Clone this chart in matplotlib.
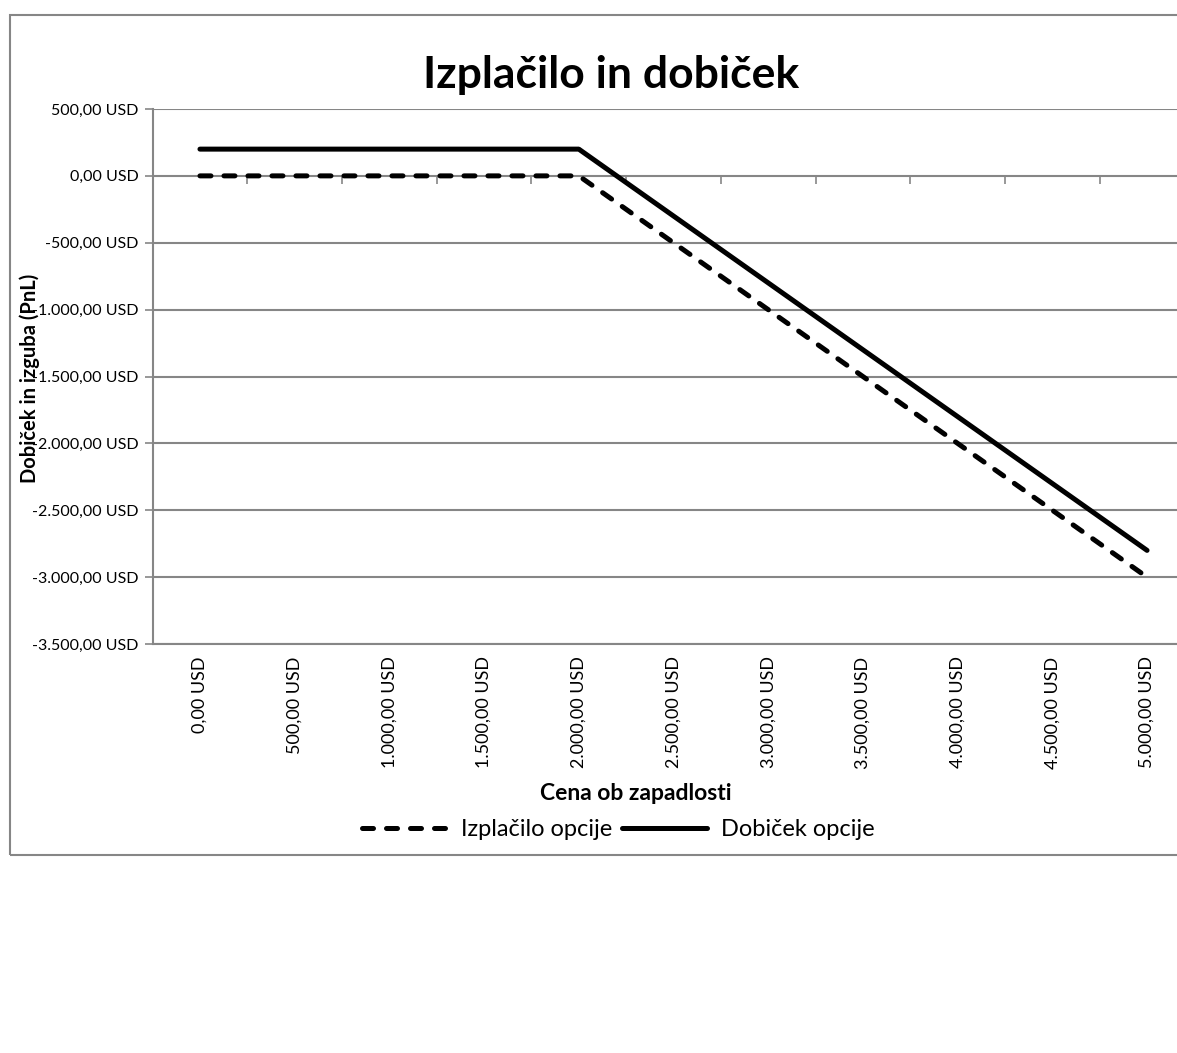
import matplotlib
matplotlib.use("Agg")
import matplotlib.pyplot as plt
import matplotlib.ticker as mtick
from matplotlib.patches import Rectangle

plt.rcParams['font.family'] = ['Lato', 'DejaVu Sans']

# data (USD)
price = [0, 500, 1000, 1500, 2000, 2500, 3000, 3500, 4000, 4500, 5000]
payoff = [0, 0, 0, 0, 0, -500, -1000, -1500, -2000, -2500, -3000]
profit = [200, 200, 200, 200, 200, -300, -800, -1300, -1800, -2300, -2800]

y_ticks = [500, 0, -500, -1000, -1500, -2000, -2500, -3000, -3500]

GRID = '#868686'


def usd(v, pos=None):
    s = '{:,.2f}'.format(v)
    s = s.replace(',', 'X').replace('.', ',').replace('X', '.')
    return s + ' USD'


W, H = 1177, 1053
fig = plt.figure(figsize=(W / 100, H / 100), dpi=100)

# outer chart border
fig.patches.append(Rectangle((10 / W, 1 - 855 / H), 1180 / W, 840 / H,
                             transform=fig.transFigure, fill=False,
                             edgecolor=GRID, lw=1.5))

ax = fig.add_axes([152.6 / W, 1 - 644 / H, 1041.8 / W, 535 / H])

ax.plot(price, payoff, color='black', lw=3.6, ls=(0, (2.2, 2.6)),
        dash_capstyle='round', solid_capstyle='round', label='Izplačilo opcije')
ax.plot(price, profit, color='black', lw=3.6, solid_capstyle='round',
        label='Dobiček opcije')

ax.set_xlim(-250, 5250)
ax.set_ylim(-3500, 500)

ax.set_yticks(y_ticks)
ax.yaxis.set_major_formatter(mtick.FuncFormatter(usd))
ax.tick_params(axis='y', length=6, width=1.2, color=GRID, pad=4, labelsize=11.5)
ax.grid(axis='y', color=GRID, lw=1.5)
ax.set_axisbelow(True)

ax.set_xticks(price)
ax.xaxis.set_major_formatter(mtick.FuncFormatter(usd))
ax.tick_params(axis='x', length=0, pad=9, labelsize=13, labelrotation=90)

for s in ['top', 'right']:
    ax.spines[s].set_visible(False)
ax.spines['left'].set_color(GRID)
ax.spines['left'].set_linewidth(1.5)
ax.spines['bottom'].set_color(GRID)
ax.spines['bottom'].set_linewidth(1.5)

# category axis crossing at zero with tick marks between categories
sec = ax.secondary_xaxis(3500 / 4000)
sec.set_xticks([p - 250 for p in price] + [price[-1] + 250])
sec.tick_params(direction='out', length=6, width=1.2, color=GRID,
                labelbottom=False, labeltop=False, top=False, bottom=True)
sec.spines['top'].set_visible(False)
sec.spines['bottom'].set_visible(False)
sec.xaxis.set_ticks_position('bottom')
sec.set_xticklabels([])

fig.text(611 / W, 1 - 75 / H, 'Izplačilo in dobiček', ha='center', va='center',
         fontsize=32, fontweight='bold')
fig.text(30 / W, 1 - 378 / H, 'Dobiček in izguba (PnL)', ha='center', va='center',
         rotation=90, fontsize=14.5, fontweight='bold')
fig.text(636 / W, 1 - 793 / H, 'Cena ob zapadlosti', ha='center', va='center',
         fontsize=16.5, fontweight='bold')

fig.legend(loc='center', bbox_to_anchor=(618 / W, 1 - 830 / H), ncol=2,
           frameon=False, fontsize=17, handlelength=3.6, handletextpad=0.6,
           columnspacing=0.4)

fig.savefig('out.png', dpi=100)
